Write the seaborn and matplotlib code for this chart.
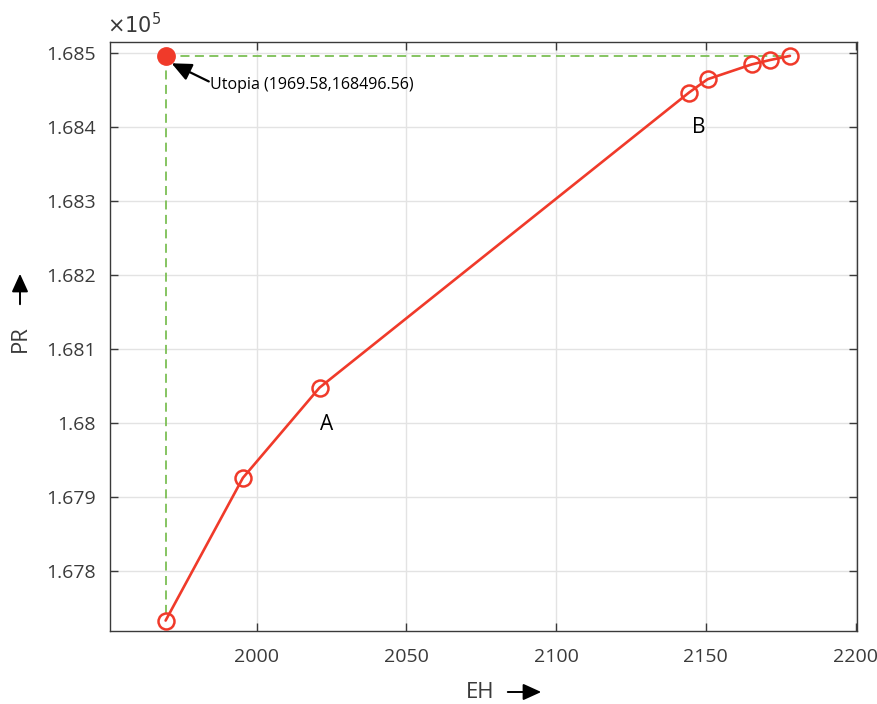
import matplotlib
matplotlib.use("Agg")
import matplotlib.pyplot as plt
import seaborn as sns
import pandas as pd
from matplotlib.ticker import FixedLocator, FuncFormatter

# ---- data ----
EH = [1969.58, 1995.4, 2021.0, 2144.4, 2150.6, 2165.3, 2171.5, 2178.1]
PR = [167733, 167926, 168048, 168447, 168465, 168485, 168491, 168496.56]
utopia_eh = 1969.58
utopia_pr = 168496.56
x_ticks = [2000, 2050, 2100, 2150, 2200]
y_ticks = [167800, 167900, 168000, 168100, 168200, 168300, 168400, 168500]
label_points = {"A": (2023.5, 167998), "B": (2147.5, 168400)}

sns.set_theme(style="whitegrid")
plt.rcParams['font.family'] = ['Open Sans', 'DejaVu Sans']

fig = plt.figure(figsize=(8.77, 7.04), dpi=100)
ax = fig.add_axes([0.1254, 0.1037, 0.9772 - 0.1254, 0.9403 - 0.1037])
ax.set_facecolor("white")

df = pd.DataFrame({"EH": EH, "PR": PR})
red = "#f03a2a"
green = "#7cbf55"

# dashed utopia guide lines
ax.plot([utopia_eh, EH[-1]], [utopia_pr, utopia_pr], ls=(0, (5, 3)), color=green, lw=1.3, zorder=2)
ax.plot([utopia_eh, utopia_eh], [utopia_pr, PR[0]], ls=(0, (5, 3)), color=green, lw=1.3, zorder=2)

sns.lineplot(data=df, x="EH", y="PR", ax=ax, color=red, lw=1.9, marker="o",
             markersize=11.5, markerfacecolor="none", markeredgecolor=red,
             markeredgewidth=1.8, sort=False, zorder=3)

ax.plot([utopia_eh], [utopia_pr], "o", color=red, markersize=12.5, zorder=4)

# utopia label and arrow
ax.text(1984.3, 168457, "Utopia (1969.58,168496.56)", fontsize=11.5, color="black",
        va="center", ha="left")
ax.annotate("", xy=(utopia_eh + 2.0, utopia_pr - 10), xytext=(1984.0, 168462),
            arrowprops=dict(arrowstyle="-|>,head_length=1.0,head_width=0.45",
                            color="black", lw=1.6, shrinkA=0, shrinkB=0))

for name, (lx, ly) in label_points.items():
    ax.text(lx, ly, name, fontsize=15, color="black", ha="center", va="center")

ax.set_xlim(1951, 2200.5)
ax.set_ylim(167718.9, 168515.3)
ax.xaxis.set_major_locator(FixedLocator(x_ticks))
ax.yaxis.set_major_locator(FixedLocator(y_ticks))
ax.yaxis.set_major_formatter(FuncFormatter(lambda v, p: f"{v/1e5:g}"))
ax.xaxis.set_major_formatter(FuncFormatter(lambda v, p: f"{v:g}"))

ax.grid(True, color="#e3e3e3", lw=1.0)
for s in ax.spines.values():
    s.set_visible(True)
    s.set_color("#3a3a3a")
    s.set_linewidth(1.0)

ax.tick_params(axis="both", which="major", direction="in", length=6, width=1.0,
               color="#3a3a3a", labelcolor="#3a3a3a", labelsize=14,
               top=True, right=True, bottom=True, left=True, pad=12)
ax.tick_params(axis="y", pad=10)

ax.set_xlabel("")
ax.set_ylabel("")

# multiplier
fig.text(0.122, 0.963, r"$\times10^{5}$", fontsize=15, color="#3a3a3a", ha="left", va="center")

# axis labels with arrows
fig.text(480 / 877, 1 - 692 / 704, "EH", fontsize=16, color="#3a3a3a", ha="center", va="center")
fig.patches.append(matplotlib.patches.FancyArrowPatch(
    (505 / 877, 1 - 692 / 704), (544 / 877, 1 - 692 / 704), transform=fig.transFigure,
    arrowstyle="-|>,head_length=11,head_width=5", color="black", lw=1.4, mutation_scale=1))
fig.text(20 / 877, 1 - 339 / 704, "PR", fontsize=16, color="#3a3a3a", ha="center", va="center", rotation=90)
fig.patches.append(matplotlib.patches.FancyArrowPatch(
    (20 / 877, 1 - 307 / 704), (20 / 877, 1 - 271 / 704), transform=fig.transFigure,
    arrowstyle="-|>,head_length=11,head_width=5", color="black", lw=1.4, mutation_scale=1))

fig.savefig("out.png", dpi=100, facecolor="white")
